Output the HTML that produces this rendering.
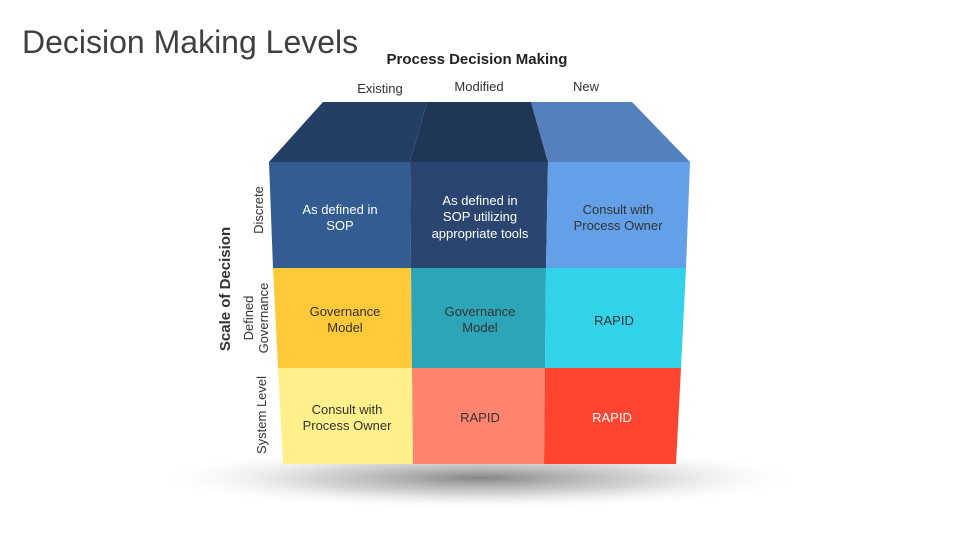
<!DOCTYPE html>
<html><head><style>
body{margin:0;width:960px;height:540px;background:#fff;overflow:hidden;font-family:"Liberation Sans",sans-serif}
</style></head><body>
<svg width="960" height="540" xmlns="http://www.w3.org/2000/svg" font-family="Liberation Sans, sans-serif">
<defs>
<radialGradient id="sh" cx="50%" cy="50%" r="50%">
<stop offset="0" stop-color="#777" stop-opacity="0.9"/>
<stop offset="0.5" stop-color="#aaa" stop-opacity="0.5"/>
<stop offset="1" stop-color="#fff" stop-opacity="0"/>
</radialGradient>
</defs>
<text x="22" y="53" font-size="32" fill="#404040">Decision Making Levels</text>
<text x="477" y="64" font-size="15" font-weight="bold" fill="#222" text-anchor="middle">Process Decision Making</text>
<g font-size="13" fill="#333" text-anchor="middle">
<text x="380" y="93">Existing</text>
<text x="479" y="91">Modified</text>
<text x="586" y="91">New</text>
</g>
<ellipse cx="480" cy="478" rx="330" ry="32" fill="url(#sh)"/>
<!-- top face -->
<polygon points="323,102 427,102 410,162 269,162" fill="#233f66"/>
<polygon points="427,102 531,102 548,162 410,162" fill="#1f3655"/>
<polygon points="531,102 632,102 690,162 548,162" fill="#5480bd"/>
<!-- row1 -->
<polygon points="269,162 410,162 411,268 273,268" fill="#325c92"/>
<polygon points="410,162 548,162 546,268 411,268" fill="#2a4670"/>
<polygon points="548,162 690,162 686,268 546,268" fill="#63a0e8"/>
<!-- row2 -->
<polygon points="273,268 411,268 412,368 278,368" fill="#ffc93a"/>
<polygon points="411,268 546,268 545,368 412,368" fill="#2ca5b8"/>
<polygon points="546,268 686,268 681,368 545,368" fill="#32d2ea"/>
<!-- row3 -->
<polygon points="278,368 412,368 413,464 283,464" fill="#fff08c"/>
<polygon points="412,368 545,368 544,464 413,464" fill="#ff8470"/>
<polygon points="545,368 681,368 676,464 544,464" fill="#ff4530"/>
<g font-size="13" text-anchor="middle">
<text x="340" y="214" fill="#fff">As defined in</text>
<text x="340" y="230" fill="#fff">SOP</text>
<text x="480" y="205" fill="#fff">As defined in</text>
<text x="480" y="221" fill="#fff">SOP utilizing</text>
<text x="480" y="238" fill="#fff">appropriate tools</text>
<text x="618" y="214" fill="#333">Consult with</text>
<text x="618" y="230" fill="#333">Process Owner</text>
<text x="345" y="316" fill="#333">Governance</text>
<text x="345" y="332" fill="#333">Model</text>
<text x="480" y="316" fill="#333">Governance</text>
<text x="480" y="332" fill="#333">Model</text>
<text x="614" y="325" fill="#333">RAPID</text>
<text x="347" y="414" fill="#333">Consult with</text>
<text x="347" y="430" fill="#333">Process Owner</text>
<text x="480" y="422" fill="#333">RAPID</text>
<text x="612" y="422" fill="#fff">RAPID</text>
</g>
<g font-size="13" fill="#333" text-anchor="middle">
<text transform="translate(263,210) rotate(-90)">Discrete</text>
<text transform="translate(253,318) rotate(-90)">Defined</text>
<text transform="translate(268,318) rotate(-90)">Governance</text>
<text transform="translate(266,415) rotate(-90)">System Level</text>
</g>
<text transform="translate(230,289) rotate(-90)" font-size="15" font-weight="bold" fill="#333" text-anchor="middle">Scale of Decision</text>
</svg>
</body></html>
